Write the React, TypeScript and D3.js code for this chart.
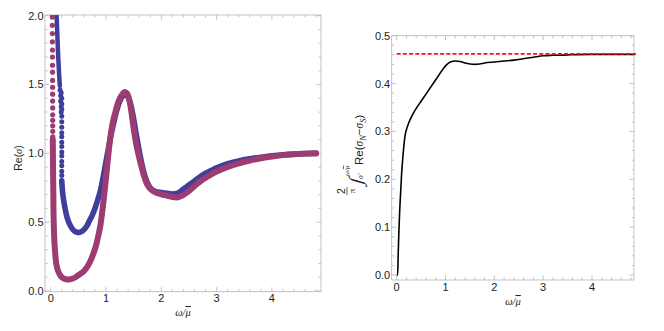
import React from "react";
import * as d3 from "d3";

const W = 664;
const H = 331;

const BLUE = "rgb(62,62,156)";
const PURPLE = "rgb(156,60,114)";
const FRAME = "#b4b4b4";
const TEXT = "#222";
const SANS = "'Liberation Sans', Arial, sans-serif";
const SERIF = "'Liberation Serif', 'Times New Roman', serif";

type Pt = [number, number];

// left panel, blue series
const blueTop: Pt[] = [
  [0.105, 2.02], [0.12, 1.86], [0.135, 1.71], [0.15, 1.59], [0.165, 1.49],
];
const blueDots: Pt[] = [
  [0.17, 1.46], [0.19, 1.44], [0.18, 1.42], [0.2, 1.4], [0.18, 1.38], [0.2, 1.36],
  [0.19, 1.34], [0.2, 1.32], [0.19, 1.3], [0.2, 1.27], [0.2, 1.23], [0.2, 1.19],
  [0.2, 1.15], [0.2, 1.12], [0.2, 1.08], [0.2, 1.05], [0.2, 1.01], [0.2, 0.98],
  [0.2, 0.94], [0.2, 0.91], [0.2, 0.87], [0.2, 0.84],
];
const blueMain: Pt[] = [
  [0.2, 0.8], [0.22, 0.7], [0.26, 0.6], [0.3, 0.53], [0.35, 0.48], [0.4, 0.447],
  [0.45, 0.43], [0.5, 0.424], [0.55, 0.43], [0.6, 0.445], [0.65, 0.47], [0.7, 0.51],
  [0.75, 0.55], [0.8, 0.6], [0.85, 0.66], [0.9, 0.73], [0.95, 0.83], [1.0, 0.94],
  [1.05, 1.05], [1.1, 1.15], [1.15, 1.24], [1.2, 1.32], [1.25, 1.38], [1.3, 1.415],
  [1.35, 1.43], [1.4, 1.41], [1.45, 1.35], [1.5, 1.25], [1.55, 1.13], [1.6, 1.02],
  [1.65, 0.92], [1.7, 0.84], [1.75, 0.785], [1.8, 0.75], [1.85, 0.732], [1.9, 0.722],
  [2.0, 0.715], [2.1, 0.71], [2.2, 0.705], [2.3, 0.712], [2.4, 0.74], [2.5, 0.77],
  [2.6, 0.8], [2.7, 0.83], [2.8, 0.855], [2.9, 0.875], [3.0, 0.895], [3.2, 0.925],
  [3.4, 0.945], [3.6, 0.96], [3.8, 0.972], [4.0, 0.982], [4.2, 0.99], [4.4, 0.995],
  [4.6, 0.998], [4.8, 1.0],
];

// left panel, purple series
const purpleDots: Pt[] = [
  [0.03, 1.99], [0.03, 1.93], [0.031, 1.87], [0.031, 1.81], [0.032, 1.75], [0.032, 1.7],
  [0.033, 1.64], [0.033, 1.59], [0.034, 1.53], [0.034, 1.48], [0.035, 1.43], [0.035, 1.38],
  [0.036, 1.33], [0.036, 1.28], [0.036, 1.24], [0.037, 1.2], [0.037, 1.16], [0.037, 1.12],
];
const purpleMain: Pt[] = [
  [0.038, 1.1], [0.04, 1.0], [0.042, 0.9], [0.045, 0.8], [0.048, 0.7], [0.05, 0.6],
  [0.055, 0.5], [0.06, 0.42], [0.07, 0.34], [0.085, 0.26], [0.1, 0.2], [0.13, 0.15],
  [0.17, 0.115], [0.22, 0.095], [0.28, 0.085], [0.32, 0.083], [0.38, 0.088], [0.45, 0.1],
  [0.52, 0.12], [0.6, 0.145], [0.66, 0.175], [0.72, 0.22], [0.77, 0.27], [0.82, 0.33],
  [0.86, 0.4], [0.9, 0.48], [0.93, 0.57], [0.96, 0.67], [1.0, 0.82], [1.04, 0.98],
  [1.08, 1.12], [1.12, 1.22], [1.17, 1.3], [1.22, 1.37], [1.28, 1.42], [1.34, 1.445],
  [1.38, 1.435], [1.42, 1.39], [1.46, 1.3], [1.5, 1.18], [1.55, 1.06], [1.6, 0.97],
  [1.65, 0.89], [1.7, 0.82], [1.75, 0.77], [1.82, 0.735], [1.9, 0.715], [2.0, 0.703],
  [2.1, 0.693], [2.2, 0.683], [2.28, 0.68], [2.35, 0.688], [2.45, 0.712], [2.55, 0.745],
  [2.65, 0.78], [2.75, 0.81], [2.85, 0.835], [3.0, 0.868], [3.2, 0.902], [3.4, 0.928],
  [3.6, 0.948], [3.8, 0.964], [4.0, 0.977], [4.2, 0.987], [4.4, 0.994], [4.6, 0.998],
  [4.8, 1.0],
];

// right panel, integrated spectral weight
const weight: Pt[] = [
  [0.0, 0.0], [0.02, 0.0], [0.03, 0.04], [0.045, 0.09], [0.06, 0.13], [0.08, 0.17],
  [0.1, 0.21], [0.13, 0.25], [0.17, 0.29], [0.22, 0.31], [0.3, 0.33], [0.4, 0.348],
  [0.5, 0.363], [0.6, 0.378], [0.7, 0.393], [0.8, 0.408], [0.9, 0.423], [1.0, 0.437],
  [1.1, 0.445], [1.2, 0.447], [1.3, 0.446], [1.4, 0.443], [1.5, 0.441], [1.6, 0.44],
  [1.7, 0.441], [1.8, 0.443], [2.0, 0.445], [2.2, 0.447], [2.4, 0.449], [2.6, 0.452],
  [2.8, 0.455], [3.0, 0.458], [3.2, 0.459], [3.5, 0.46], [4.0, 0.461], [4.5, 0.461],
  [4.88, 0.461],
];
const sumRule = 0.462;

const leftXTicks = [0, 1, 2, 3, 4];
const leftYTicks = [0, 0.5, 1.0, 1.5, 2.0];
const rightXTicks = [0, 1, 2, 3, 4];
const rightYTicks = [0, 0.1, 0.2, 0.3, 0.4, 0.5];

const Frame = ({ x, y, xTicks, yTicks, xStep, yStep, xFmt, yFmt }) => {
  const [x0, x1] = x.range();
  const [y0, y1] = y.range();
  const [dx0, dx1] = x.domain();
  const [dy0, dy1] = y.domain();
  const near = (v, arr) => arr.some((t) => Math.abs(t - v) < 1e-6);
  const xMinor = d3
    .range(Math.ceil(dx0 / xStep) * xStep, dx1, xStep)
    .map((v) => +v.toFixed(4))
    .filter((v) => !near(v, xTicks));
  const yMinor = d3
    .range(Math.ceil(dy0 / yStep) * yStep, dy1 + 1e-9, yStep)
    .map((v) => +v.toFixed(4))
    .filter((v) => !near(v, yTicks));
  const tickX = (v, len, k) => (
    <g key={k}>
      <line x1={x(v)} x2={x(v)} y1={y0} y2={y0 - len} />
      <line x1={x(v)} x2={x(v)} y1={y1} y2={y1 + len} />
    </g>
  );
  const tickY = (v, len, k) => (
    <g key={k}>
      <line x1={x0} x2={x0 + len} y1={y(v)} y2={y(v)} />
      <line x1={x1} x2={x1 - len} y1={y(v)} y2={y(v)} />
    </g>
  );
  return (
    <g>
      <g stroke={FRAME} strokeWidth={0.8}>
        <rect x={x0} y={y1} width={x1 - x0} height={y0 - y1} fill="none" />
        {xTicks.map((v, i) => tickX(v, 4.5, "xm" + i))}
        {xMinor.map((v, i) => tickX(v, 2.5, "xn" + i))}
        {yTicks.map((v, i) => tickY(v, 4.5, "ym" + i))}
        {yMinor.map((v, i) => tickY(v, 2.5, "yn" + i))}
      </g>
      <g fontFamily={SANS} fontSize={11} fill={TEXT}>
        {xTicks.map((v) => (
          <text key={"xl" + v} x={x(v)} y={y0 + 10.5} textAnchor="middle">
            {xFmt(v)}
          </text>
        ))}
        {yTicks.map((v) => (
          <text key={"yl" + v} x={x0 - 1.5} y={y(v)} dy="0.36em" textAnchor="end">
            {yFmt(v)}
          </text>
        ))}
      </g>
    </g>
  );
};

// ω over mu-bar, the overline drawn as text decoration on the μ
const Omega = () => (
  <>
    ω/<tspan style={{ textDecoration: "overline" }}>μ</tspan>
  </>
);

export default function App() {
  // left panel scales
  const lx = d3.scaleLinear().domain([-0.103, 4.888]).range([45, 321]);
  const ly = d3.scaleLinear().domain([-0.005, 2.005]).range([291.7, 15]);
  // right panel scales
  const rx = d3.scaleLinear().domain([-0.102, 4.86]).range([391.7, 634]);
  const ry = d3.scaleLinear().domain([-0.0104, 0.5]).range([280, 35.7]);

  const lLine = d3
    .line<Pt>()
    .x((d) => lx(d[0]))
    .y((d) => ly(d[1]))
    .curve(d3.curveCatmullRom);
  const rLine = d3
    .line<Pt>()
    .x((d) => rx(d[0]))
    .y((d) => ry(d[1]))
    .curve(d3.curveMonotoneX);

  const thick = { fill: "none", strokeWidth: 5.6, strokeLinecap: "round" as const, strokeLinejoin: "round" as const };

  return (
    <svg width={W} height={H} style={{ position: "absolute", left: 0, top: 0, background: "#fff" }}>
      <defs>
        <clipPath id="lclip">
          <rect x={45} y={15} width={276} height={276.7} />
        </clipPath>
      </defs>

      {/* left panel */}
      <Frame
        x={lx}
        y={ly}
        xTicks={leftXTicks}
        yTicks={leftYTicks}
        xStep={0.2}
        yStep={0.1}
        xFmt={(v) => d3.format("d")(v)}
        yFmt={(v) => d3.format(".1f")(v)}
      />
      <g clipPath="url(#lclip)">
        <path d={lLine(blueTop)} stroke={BLUE} {...thick} strokeWidth={4.5} />
        {blueDots.map((d, i) => (
          <circle key={"bd" + i} cx={lx(d[0])} cy={ly(d[1])} r={2.5} fill={BLUE} />
        ))}
        <path d={lLine(blueMain)} stroke={BLUE} {...thick} />
        {purpleDots.map((d, i) => (
          <circle key={"pd" + i} cx={lx(d[0])} cy={ly(d[1])} r={2.6} fill={PURPLE} />
        ))}
        <path d={lLine(purpleMain)} stroke={PURPLE} {...thick} strokeWidth={6} />
      </g>
      <text
        transform="translate(22,158) rotate(-90)"
        textAnchor="middle"
        fontFamily={SANS}
        fontSize={10.5}
        fill={TEXT}
      >
        Re(<tspan fontFamily={SERIF} fontStyle="italic">σ</tspan>)
      </text>
      <text x={183} y={316} textAnchor="middle" fontFamily={SERIF} fontStyle="italic" fontSize={10.5} fill={TEXT}>
        <Omega />
      </text>

      {/* right panel */}
      <Frame
        x={rx}
        y={ry}
        xTicks={rightXTicks}
        yTicks={rightYTicks}
        xStep={0.2}
        yStep={0.02}
        xFmt={(v) => d3.format("d")(v)}
        yFmt={(v) => d3.format(".1f")(v)}
      />
      <path d={rLine(weight)} fill="none" stroke="#000" strokeWidth={1.6} />
      <line
        x1={rx(0)}
        x2={rx(4.9)}
        y1={ry(sumRule)}
        y2={ry(sumRule)}
        stroke="#ff1010"
        strokeWidth={1.7}
        strokeDasharray="4,2.2"
      />
      <text x={513} y={305} textAnchor="middle" fontFamily={SERIF} fontStyle="italic" fontSize={10.5} fill={TEXT}>
        <Omega />
      </text>
      <g transform="translate(363,198) rotate(-90)" fill={TEXT}>
        <text x={7} y={-18} textAnchor="middle" fontFamily={SANS} fontSize={10.5}>
          2
        </text>
        <line x1={3} x2={11} y1={-16} y2={-16} stroke={TEXT} strokeWidth={0.7} />
        <text x={7} y={-8.5} textAnchor="middle" fontFamily={SERIF} fontSize={9}>
          π
        </text>
        <text transform="translate(13,-1) skewX(-15)" fontFamily={SERIF} fontSize={19}>
          ∫
        </text>
        <text x={22} y={-14} fontFamily={SERIF} fontStyle="italic" fontSize={7}>
          <Omega />
        </text>
        <text x={19} y={-0.5} fontFamily={SERIF} fontStyle="italic" fontSize={7}>
          0<tspan dy={-2.5} fontSize={5}>+</tspan>
        </text>
        <text x={33} y={0} fontFamily={SANS} fontSize={11.5}>
          Re(<tspan fontFamily={SERIF} fontStyle="italic">σ</tspan>
          <tspan fontFamily={SERIF} fontStyle="italic" fontSize={8.5} dy={2.5}>N</tspan>
          <tspan dy={-2.5}>−</tspan>
          <tspan fontFamily={SERIF} fontStyle="italic">σ</tspan>
          <tspan fontFamily={SERIF} fontStyle="italic" fontSize={8.5} dy={2.5}>S</tspan>
          <tspan dy={-2.5}>)</tspan>
        </text>
      </g>
    </svg>
  );
}
